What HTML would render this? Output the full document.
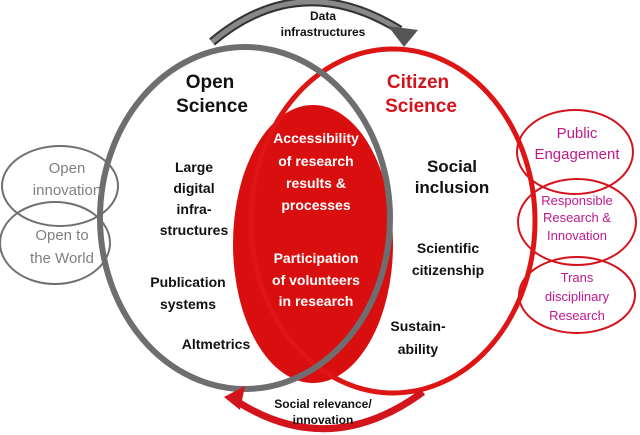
<!DOCTYPE html>
<html><head><style>body{margin:0;background:#fff}svg{display:block}text{font-family:"Liberation Sans",sans-serif;text-anchor:middle;font-weight:bold}</style></head><body>
<svg width="640" height="435" viewBox="0 0 640 435">
<g fill="none" stroke-width="2">
<ellipse cx="60" cy="186" rx="58" ry="40" stroke="#707070"/>
<ellipse cx="55" cy="243" rx="55" ry="41" stroke="#707070"/>
<ellipse cx="575" cy="152" rx="58" ry="42" stroke="#d4141c"/>
<ellipse cx="577" cy="222" rx="59" ry="43" stroke="#d4141c"/>
<ellipse cx="577" cy="295" rx="58" ry="38" stroke="#d4141c"/>
</g>
<ellipse cx="313" cy="244" rx="80" ry="139" fill="#d90f0f"/>
<ellipse cx="393" cy="221" rx="142" ry="172" fill="none" stroke="#dd1515" stroke-width="5"/>
<ellipse cx="245" cy="218" rx="145" ry="171" fill="none" stroke="#6e6e70" stroke-width="6"/>
<path d="M212 42 Q300 -32 400 30" fill="none" stroke="#333" stroke-width="9"/>
<path d="M212 42 Q300 -32 400 30" fill="none" stroke="#888" stroke-width="5"/>
<polygon points="388,26 418,30 404,47" fill="#555"/>
<path d="M423 392 Q330 460 238 402" fill="none" stroke="#d4141c" stroke-width="7"/>
<polygon points="224,397 245,386 240,410" fill="#d4141c"/>
<g font-size="12" fill="#111"><text x="323" y="20">Data</text><text x="323" y="36">infrastructures</text>
<text x="323" y="408">Social relevance/</text><text x="323" y="424">innovation</text></g>
<g font-size="19" fill="#111"><text x="210" y="88">Open</text><text x="212" y="112">Science</text></g>
<g font-size="19" fill="#d4141c"><text x="418" y="88">Citizen</text><text x="421" y="112">Science</text></g>
<g font-size="14" fill="#fff"><text x="316" y="143">Accessibility</text><text x="316" y="166">of research</text><text x="316" y="188">results &amp;</text><text x="316" y="210">processes</text>
<text x="316" y="263">Participation</text><text x="316" y="285">of volunteers</text><text x="316" y="306">in research</text></g>
<g font-size="14" fill="#111"><text x="194" y="172">Large</text><text x="194" y="193">digital</text><text x="194" y="214">infra-</text><text x="194" y="235">structures</text>
<text x="188" y="287">Publication</text><text x="188" y="309">systems</text><text x="216" y="349">Altmetrics</text>
<text x="452" y="172" font-size="17">Social</text><text x="452" y="193" font-size="17">inclusion</text>
<text x="448" y="253">Scientific</text><text x="448" y="275">citizenship</text>
<text x="418" y="331">Sustain-</text><text x="418" y="354">ability</text></g>
<g font-size="15" fill="#808080"><text x="67" y="173" style="font-weight:normal">Open</text><text x="67" y="195" style="font-weight:normal">innovation</text>
<text x="62" y="240" style="font-weight:normal">Open to</text><text x="62" y="263" style="font-weight:normal">the World</text></g>
<g fill="#c0188e"><text x="577" y="138" font-size="15" style="font-weight:normal">Public</text><text x="577" y="159" font-size="15" style="font-weight:normal">Engagement</text>
<text x="577" y="205" font-size="13" style="font-weight:normal">Responsible</text><text x="577" y="222" font-size="13" style="font-weight:normal">Research &amp;</text><text x="577" y="240" font-size="13" style="font-weight:normal">Innovation</text>
<text x="577" y="282" font-size="13" style="font-weight:normal">Trans</text><text x="577" y="301" font-size="13" style="font-weight:normal">disciplinary</text><text x="577" y="320" font-size="13" style="font-weight:normal">Research</text></g>
</svg></body></html>
